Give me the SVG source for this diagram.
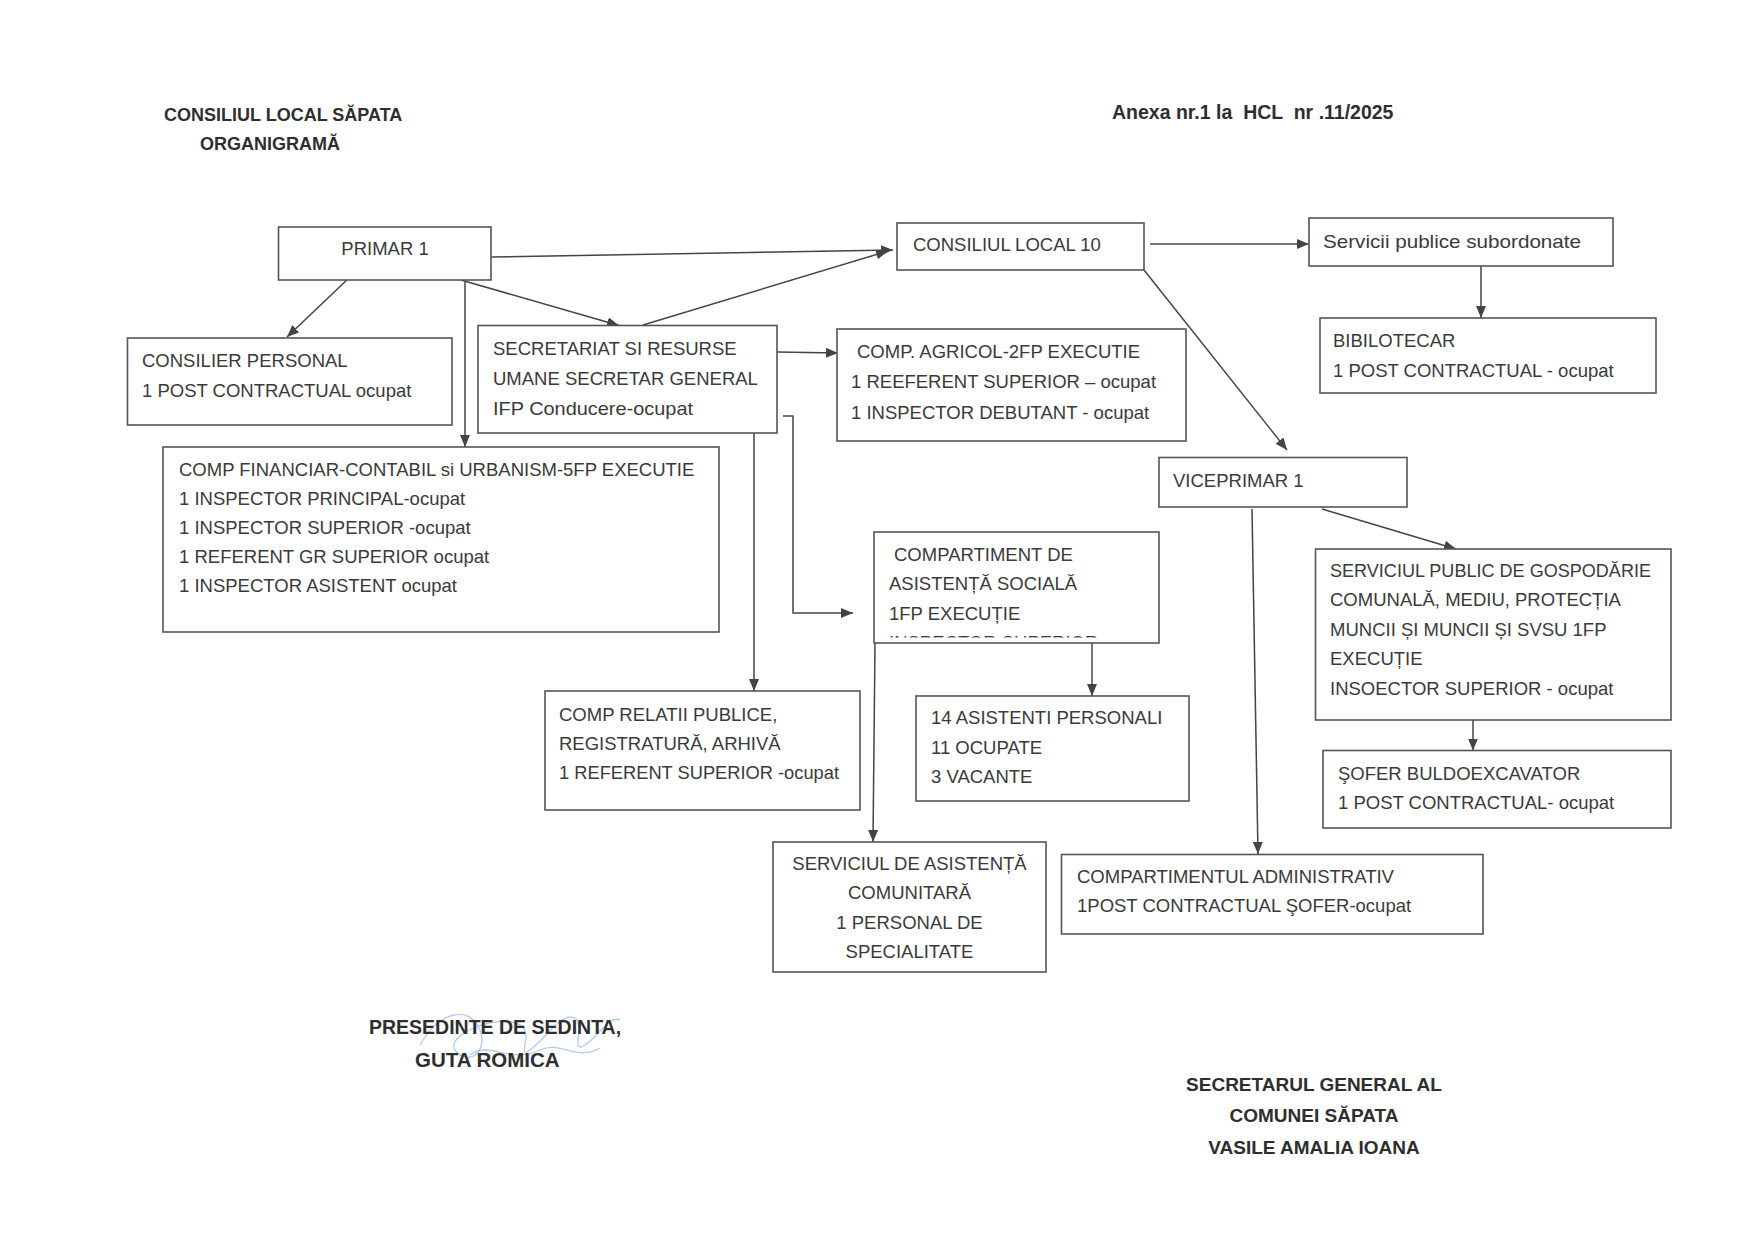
<svg xmlns="http://www.w3.org/2000/svg" width="1754" height="1240" viewBox="0 0 1754 1240">
<style>
  .bg{fill:#ffffff}
  .box{fill:#ffffff;stroke:#555555;stroke-width:1.6}
  .t{font-family:"Liberation Sans",Arial,sans-serif;font-size:18.5px;fill:#3a3a3a}
  .h{font-family:"Liberation Sans",Arial,sans-serif;font-weight:bold;fill:#2e2e2e}
  .c{text-anchor:middle}
  .ln{fill:none;stroke:#444444;stroke-width:1.5}
  .arr{marker-end:url(#ah)}
  .sig{fill:none;stroke:#6f9fe0;stroke-width:1.3;opacity:0.55}
</style>
<defs>
  <marker id="ah" markerUnits="userSpaceOnUse" markerWidth="14" markerHeight="12" refX="12" refY="5" orient="auto">
    <path d="M0,0 L12,5 L0,10 z" fill="#444444"/>
  </marker>
  <clipPath id="clipSoc"><rect x="880" y="620" width="270" height="17.5"/></clipPath>
  <clipPath id="clipGuta"><rect x="400" y="1053" width="220" height="20"/></clipPath>
</defs>
<rect class="bg" x="0" y="0" width="1754" height="1240"/>

<g id="header">
  <text class="h" x="164" y="121" font-size="18">CONSILIUL LOCAL SĂPATA</text>
  <text class="h" x="200" y="150" font-size="18">ORGANIGRAMĂ</text>
  <text class="h" x="1112" y="118.5" font-size="19.5" xml:space="preserve">Anexa nr.1 la  HCL  nr .11/2025</text>
</g>

<g id="connectors">
  <line class="ln arr" x1="491" y1="257" x2="893" y2="250"/>
  <line class="ln arr" x1="643" y1="325" x2="888" y2="251"/>
  <line class="ln arr" x1="350" y1="277" x2="287" y2="337"/>
  <line class="ln arr" x1="465" y1="282" x2="465" y2="447"/>
  <line class="ln arr" x1="461" y1="280" x2="619" y2="325.5"/>
  <line class="ln arr" x1="777" y1="352" x2="838" y2="353"/>
  <line class="ln arr" x1="754" y1="433" x2="754" y2="691"/>
  <polyline class="ln arr" points="783,416 793,416 793,613 853,613"/>
  <line class="ln arr" x1="1150" y1="244" x2="1309" y2="244"/>
  <line class="ln arr" x1="1144" y1="270" x2="1287" y2="450"/>
  <line class="ln arr" x1="1481" y1="266" x2="1481" y2="318"/>
  <line class="ln arr" x1="1322" y1="509" x2="1456" y2="549"/>
  <line class="ln arr" x1="1252" y1="509" x2="1258" y2="854"/>
  <line class="ln arr" x1="1092" y1="643" x2="1092" y2="696"/>
  <line class="ln arr" x1="875" y1="643" x2="873" y2="842"/>
  <line class="ln arr" x1="1473" y1="720" x2="1473" y2="750.5"/>
</g>

<g id="primar">
  <rect class="box" x="278.5" y="227" width="212.5" height="53"/>
  <text class="t c" x="385" y="254.6">PRIMAR 1</text>
</g>
<g id="consiliul-local">
  <rect class="box" x="897" y="223" width="247" height="47"/>
  <text class="t" x="913" y="250.6">CONSILIUL LOCAL 10</text>
</g>
<g id="servicii-publice">
  <rect class="box" x="1309" y="218" width="304" height="48"/>
  <text class="t" x="1323" y="248" font-size="19.5" textLength="258" lengthAdjust="spacingAndGlyphs">Servicii publice subordonate</text>
</g>
<g id="bibliotecar">
  <rect class="box" x="1320" y="318" width="336" height="75"/>
  <text class="t" x="1333" y="346.6">BIBILOTECAR</text>
  <text class="t" x="1333" y="376.6">1 POST CONTRACTUAL - ocupat</text>
</g>
<g id="consilier-personal">
  <rect class="box" x="127.5" y="338" width="324.5" height="87"/>
  <text class="t" x="142" y="366.6">CONSILIER PERSONAL</text>
  <text class="t" x="142" y="396.6">1 POST CONTRACTUAL ocupat</text>
</g>
<g id="secretariat">
  <rect class="box" x="478" y="325.5" width="299" height="107.5"/>
  <text class="t" x="493" y="354.6">SECRETARIAT SI RESURSE</text>
  <text class="t" x="493" y="384.6">UMANE SECRETAR GENERAL</text>
  <text class="t" x="493" y="414.6" textLength="200" lengthAdjust="spacingAndGlyphs">IFP Conducere-ocupat</text>
</g>
<g id="comp-agricol">
  <rect class="box" x="837" y="329" width="349" height="112"/>
  <text class="t" x="857" y="357.6">COMP. AGRICOL-2FP EXECUTIE</text>
  <text class="t" x="851" y="387.6">1 REEFERENT SUPERIOR – ocupat</text>
  <text class="t" x="851" y="418.6">1 INSPECTOR DEBUTANT - ocupat</text>
</g>
<g id="comp-financiar">
  <rect class="box" x="163" y="447" width="556" height="185"/>
  <text class="t" x="179" y="475.6">COMP FINANCIAR-CONTABIL si URBANISM-5FP EXECUTIE</text>
  <text class="t" x="179" y="504.8">1 INSPECTOR PRINCIPAL-ocupat</text>
  <text class="t" x="179" y="534">1 INSPECTOR SUPERIOR -ocupat</text>
  <text class="t" x="179" y="563.2">1 REFERENT GR SUPERIOR ocupat</text>
  <text class="t" x="179" y="592.4">1 INSPECTOR ASISTENT ocupat</text>
</g>
<g id="viceprimar">
  <rect class="box" x="1159" y="457.5" width="248" height="49.5"/>
  <text class="t" x="1173" y="486.6">VICEPRIMAR 1</text>
</g>
<g id="asistenta-sociala">
  <rect class="box" x="874" y="532" width="285" height="111"/>
  <text class="t" x="894" y="560.6">COMPARTIMENT DE</text>
  <text class="t" x="889" y="589.6">ASISTENȚĂ SOCIALĂ</text>
  <text class="t" x="889" y="619.6">1FP EXECUȚIE</text>
  <text class="t" x="889" y="648.5" clip-path="url(#clipSoc)">INSPECTOR SUPERIOR</text>
</g>
<g id="gospodarie">
  <rect class="box" x="1315.5" y="549" width="355.5" height="171"/>
  <text class="t" x="1330" y="576.6" textLength="321" lengthAdjust="spacingAndGlyphs">SERVICIUL PUBLIC DE GOSPODĂRIE</text>
  <text class="t" x="1330" y="606.1">COMUNALĂ, MEDIU, PROTECȚIA</text>
  <text class="t" x="1330" y="635.6">MUNCII ȘI MUNCII ȘI SVSU 1FP</text>
  <text class="t" x="1330" y="665.1">EXECUȚIE</text>
  <text class="t" x="1330" y="694.6">INSOECTOR SUPERIOR - ocupat</text>
</g>
<g id="relatii-publice">
  <rect class="box" x="545" y="691" width="315" height="119"/>
  <text class="t" x="559" y="720.6">COMP RELATII PUBLICE,</text>
  <text class="t" x="559" y="749.6">REGISTRATURĂ, ARHIVĂ</text>
  <text class="t" x="559" y="778.6" textLength="280" lengthAdjust="spacingAndGlyphs">1 REFERENT SUPERIOR -ocupat</text>
</g>
<g id="asistenti-personali">
  <rect class="box" x="916" y="696" width="273" height="105"/>
  <text class="t" x="931" y="723.6">14 ASISTENTI PERSONALI</text>
  <text class="t" x="931" y="753.6">11 OCUPATE</text>
  <text class="t" x="931" y="782.6">3 VACANTE</text>
</g>
<g id="sofer-buldoexcavator">
  <rect class="box" x="1323" y="750.5" width="348" height="77.5"/>
  <text class="t" x="1338" y="779.6">ŞOFER BULDOEXCAVATOR</text>
  <text class="t" x="1338" y="808.6">1 POST CONTRACTUAL- ocupat</text>
</g>
<g id="asistenta-comunitara">
  <rect class="box" x="773" y="842" width="273" height="130"/>
  <text class="t c" x="909.5" y="870">SERVICIUL DE ASISTENȚĂ</text>
  <text class="t c" x="909.5" y="899">COMUNITARĂ</text>
  <text class="t c" x="909.5" y="928.5">1 PERSONAL DE</text>
  <text class="t c" x="909.5" y="957.6">SPECIALITATE</text>
</g>
<g id="comp-administrativ">
  <rect class="box" x="1061.5" y="854.5" width="421.5" height="79.5"/>
  <text class="t" x="1077" y="882.6">COMPARTIMENTUL ADMINISTRATIV</text>
  <text class="t" x="1077" y="911.6">1POST CONTRACTUAL ŞOFER-ocupat</text>
</g>

<g id="signature">
  <path class="sig" d="M420,1045 C440,1010 470,1005 480,1030 C488,1050 470,1068 455,1050 C445,1035 500,1012 520,1025 C535,1035 515,1060 530,1050 C545,1040 560,1012 575,1018 C585,1025 570,1055 585,1045 C600,1035 610,1015 620,1020"/>
  <path class="sig" d="M470,1055 C490,1040 510,1065 540,1050 C560,1040 575,1062 600,1048"/>
</g>

<g id="footer">
  <text class="h" x="369" y="1034" font-size="19.5">PRESEDINTE DE SEDINTA,</text>
  <text class="h" x="415" y="1067" font-size="20.5" clip-path="url(#clipGuta)">GUTA ROMICA</text>
  <text class="h c" x="1314" y="1091" font-size="19">SECRETARUL GENERAL AL</text>
  <text class="h c" x="1314" y="1122" font-size="19">COMUNEI SĂPATA</text>
  <text class="h c" x="1314" y="1154" font-size="19">VASILE AMALIA IOANA</text>
</g>
</svg>
